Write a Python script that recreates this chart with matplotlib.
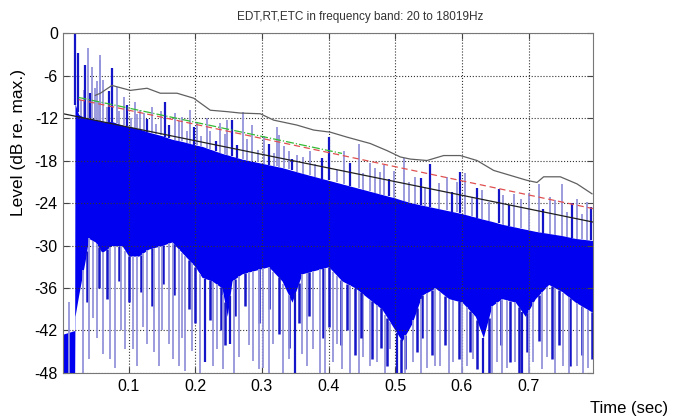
import numpy as np
import matplotlib
matplotlib.use("Agg")
from matplotlib import pyplot as plt

plt.rcParams['font.family'] = ['Liberation Sans', 'DejaVu Sans']
plt.rcParams['axes.unicode_minus'] = False

# dense part of the ETC (dB)
env_t = [0.002, 0.019, 0.0195, 0.025, 0.035, 0.04, 0.05, 0.06, 0.075, 0.09,
         0.10, 0.115, 0.13, 0.15, 0.165, 0.18, 0.20, 0.21, 0.225, 0.24,
         0.248, 0.255, 0.27, 0.29, 0.31, 0.33, 0.345, 0.36, 0.38, 0.40,
         0.42, 0.44, 0.46, 0.48, 0.50, 0.51, 0.525, 0.54, 0.56, 0.58,
         0.60, 0.62, 0.632, 0.645, 0.66, 0.68, 0.695, 0.71, 0.73, 0.75,
         0.77, 0.797]
core_top = [-42.5, -42.0, -10.0, -11.5, -12.0, -12.0, -12.2, -12.5, -12.5, -13.0,
            -13.2, -13.5, -14.0, -14.5, -15.0, -15.3, -15.8, -16.0, -16.5, -17.0,
            -17.2, -17.4, -17.8, -18.2, -18.6, -19.0, -19.4, -19.8, -20.3, -20.8,
            -21.3, -21.8, -22.3, -22.8, -23.3, -23.6, -24.0, -24.3, -24.7, -25.1,
            -25.5, -26.0, -26.3, -26.6, -27.0, -27.4, -27.7, -28.0, -28.3, -28.6,
            -29.0, -29.3]
core_bot = [-48, -48, -40, -37.0, -32, -29, -29.5, -31.0, -30, -30,
            -31.5, -31.5, -30.5, -30, -29.5, -31, -33, -34.5, -35, -36,
            -40.0, -35, -34.0, -33.5, -33, -35, -38, -34, -33.5, -33,
            -35, -36, -37.5, -39, -42, -43.5, -41, -37, -36, -37.5,
            -38, -40, -43, -38.5, -37.5, -38, -40, -37.5, -35.5, -36.5,
            -38, -39.5]

# tall peaks sticking out above the dense part
up_t = [0.0200, 0.0235, 0.0325, 0.035, 0.0385, 0.045, 0.050, 0.0526, 0.0565, 0.0576,
        0.062, 0.075, 0.0826, 0.0925, 0.11, 0.1175, 0.1225, 0.135, 0.155, 0.17,
        0.18, 0.1925, 0.2025, 0.2175, 0.2375, 0.248, 0.255, 0.272, 0.285, 0.3025,
        0.322, 0.325, 0.34, 0.3525, 0.3725, 0.40, 0.4225, 0.445, 0.4625, 0.477,
        0.4825, 0.5125, 0.53, 0.5525, 0.5775, 0.5975, 0.605, 0.63, 0.655, 0.6775,
        0.715, 0.732, 0.75, 0.7725, 0.7875]
up_db = [0.0, -2.8, -8.0, -4.5, -2.1, -4.8, -7.8, -6.8, -3.1, -3.8,
         -6.7, -5.0, -7.6, -9.0, -9.7, -10.9, -11.3, -10.4, -9.7, -11.3,
         -11.9, -10.9, -12.5, -12.0, -12.7, -12.3, -12.3, -11.2, -13.0, -14.6,
         -13.3, -14.4, -16.7, -17.2, -16.6, -14.7, -16.6, -15.6, -18.4, -19.6,
         -18.6, -17.7, -20.3, -18.5, -20.3, -19.6, -19.8, -22.2, -22.0, -22.7,
         -21.3, -23.1, -21.3, -23.4, -23.8]
up_dark = [1, 1, 0, 1, 0, 0, 0, 0, 0, 0,
           0, 1, 0, 0, 0, 0, 0, 0, 1, 0,
           0, 0, 0, 0, 0, 0, 1, 0, 0, 0,
           0, 0, 0, 0, 0, 1, 0, 0, 0, 0,
           0, 0, 0, 1, 0, 1, 0, 0, 1, 0,
           0, 0, 0, 0, 0]

# shorter peaks along the top edge
up2_t = [0.028, 0.042, 0.055, 0.067, 0.071, 0.086, 0.097, 0.104, 0.113, 0.128,
         0.141, 0.148, 0.161, 0.176, 0.187, 0.198, 0.209, 0.222, 0.231, 0.244,
         0.262, 0.278, 0.294, 0.310, 0.318, 0.333, 0.345, 0.362, 0.380, 0.390,
         0.412, 0.432, 0.452, 0.470, 0.490, 0.498, 0.520, 0.538, 0.545, 0.565,
         0.585, 0.592, 0.615, 0.622, 0.640, 0.662, 0.670, 0.688, 0.700, 0.722,
         0.740, 0.758, 0.765, 0.780, 0.793]
up2_db = [-9.5, -8.5, -9.8, -10.5, -8.2, -11.0, -10.2, -12.0, -11.5, -12.2,
          -12.8, -11.0, -13.0, -12.4, -13.8, -13.2, -14.5, -13.8, -15.2, -14.3,
          -15.8, -14.9, -16.5, -15.6, -17.0, -16.0, -17.8, -17.5, -18.5, -17.6,
          -19.3, -18.3, -19.8, -19.0, -20.6, -19.5, -21.0, -20.5, -21.8, -21.2,
          -22.5, -21.0, -23.2, -21.9, -23.8, -22.8, -24.3, -23.5, -22.6, -24.8,
          -23.6, -25.3, -24.0, -25.6, -24.6]
up2_dark = [0, 1, 0, 0, 1, 0, 1, 0, 0, 1,
            0, 0, 1, 0, 0, 1, 0, 0, 1, 0,
            1, 0, 0, 1, 0, 0, 1, 0, 0, 1,
            0, 1, 0, 0, 1, 0, 0, 1, 0, 0,
            1, 0, 0, 1, 0, 0, 1, 0, 0, 1,
            0, 0, 1, 0, 1]

# dips reaching down below the dense part
dn_t = [0.032, 0.047, 0.062, 0.080, 0.095, 0.107, 0.128, 0.145, 0.16, 0.175,
        0.185, 0.195, 0.215, 0.232, 0.252, 0.265, 0.287, 0.302, 0.317, 0.332,
        0.35, 0.36, 0.377, 0.387, 0.407, 0.413, 0.432, 0.452, 0.472, 0.492,
        0.502, 0.527, 0.547, 0.567, 0.587, 0.607, 0.632, 0.652, 0.667, 0.69,
        0.707, 0.727, 0.752, 0.772, 0.789]
dn_db = [-48, -40.2, -45.3, -47.3, -44.6, -44.6, -43.9, -47.0, -43.9, -47.0,
         -47.7, -44.9, -46.5, -44.6, -43.9, -45.8, -46.3, -47.3, -43.9, -48,
         -48, -45.3, -44.6, -48, -46.5, -43.9, -48, -45.8, -46.5, -44.6,
         -48, -46.5, -47.3, -47.0, -46.5, -47.0, -48, -46.5, -47.3, -48,
         -46.5, -45.8, -47.0, -47.0, -47.3]
dn_dark = [0, 0, 0, 0, 0, 0, 0, 0, 0, 0,
           0, 0, 1, 0, 1, 0, 0, 0, 0, 0,
           1, 0, 0, 0, 0, 0, 0, 0, 0, 0,
           1, 0, 0, 0, 0, 0, 1, 0, 0, 1,
           0, 0, 0, 0, 0]

# dark blue icicles under the dense part
dn2_t = [0.037, 0.055, 0.068, 0.085, 0.101, 0.118, 0.135, 0.152, 0.168, 0.190,
         0.200, 0.222, 0.238, 0.244, 0.260, 0.275, 0.295, 0.310, 0.325, 0.340,
         0.355, 0.370, 0.392, 0.400, 0.418, 0.428, 0.440, 0.448, 0.465, 0.478,
         0.488, 0.508, 0.515, 0.533, 0.540, 0.555, 0.575, 0.595, 0.612, 0.622,
         0.640, 0.658, 0.672, 0.685, 0.698, 0.715, 0.735, 0.745, 0.762, 0.780,
         0.795]
dn2_db = [-38, -36, -37.5, -35, -38, -36.5, -38.5, -35.5, -37, -39,
          -41, -40.5, -42, -44, -40, -38.5, -41, -39, -42.5, -44.5,
          -41, -40, -43, -41.5, -44, -42, -45.5, -43, -46, -44.5,
          -47, -48, -47.5, -45, -43, -45.5, -44, -46, -45, -47.5,
          -48, -44, -46.5, -48, -45, -43.5, -46, -44, -47, -45.5,
          -46]

# more light dips to the bottom
dn3_t = [0.040, 0.052, 0.072, 0.088, 0.113, 0.122, 0.138, 0.150, 0.167, 0.180,
         0.207, 0.227, 0.242, 0.258, 0.280, 0.295, 0.310, 0.340, 0.367, 0.395,
         0.420, 0.445, 0.462, 0.485, 0.515, 0.538, 0.560, 0.580, 0.600, 0.617,
         0.645, 0.660, 0.680, 0.700, 0.720, 0.740, 0.760, 0.782]
dn3_db = [-46, -43, -46, -42, -47, -41.5, -45, -42, -46, -43,
          -48, -47, -47.5, -48, -44, -47.5, -48, -46, -47, -48,
          -47.5, -48, -47, -48, -48, -48, -47, -48, -48, -46,
          -48, -48, -46.5, -48, -47.5, -48, -48, -48]

# smoothed envelope (grey)
env_smooth_t = [0.050, 0.0576, 0.075, 0.1025, 0.1276, 0.1475, 0.1726, 0.1975, 0.2225, 0.2475,
                0.2675, 0.2975, 0.3175, 0.3525, 0.3775, 0.4025, 0.4275, 0.4624, 0.4875, 0.5075,
                0.5225, 0.5475, 0.5725, 0.5975, 0.6225, 0.6475, 0.6725, 0.6975, 0.7125, 0.7225,
                0.7475, 0.7725, 0.795]
env_smooth_db = [-8.8, -8.5, -7.4, -8.1, -7.8, -8.5, -8.5, -9.2, -10.9, -11.1,
                 -11.3, -11.4, -12.3, -13.0, -13.7, -14.0, -14.7, -15.6, -16.6, -17.5,
                 -17.8, -18.0, -17.3, -17.3, -18.0, -19.4, -20.1, -20.8, -21.1, -20.3,
                 -20.3, -21.3, -22.7]

# fitted decay lines
rt_t = [0.002, 0.797]
rt_db = [-11.4, -26.7]
edt_t = [0.025, 0.42]
edt_db = [-9.1, -17.0]
t30_t = [0.025, 0.797]
t30_db = [-9.4, -24.8]

fig = plt.figure(figsize=(6.78, 4.19), dpi=100)
ax = fig.add_axes([0.0934, 0.1098, 0.7817, 0.8114])

blue = '#0000f0'
light = '#9494dc'
darkb = '#1414c8'

ax.fill_between(env_t, core_bot, core_top, color=blue, lw=0)

top_up = np.interp(up_t, env_t, core_top)
for t, a, b, d in zip(up_t, top_up, up_db, up_dark):
    ax.vlines(t, a, b, color=darkb if d else light, lw=1.6 if d else 1.3)
top_up2 = np.interp(up2_t, env_t, core_top)
for t, a, b, d in zip(up2_t, top_up2, up2_db, up2_dark):
    ax.vlines(t, a, b, color=darkb if d else light, lw=1.6 if d else 1.3)

bot_dn = np.interp(dn_t, env_t, core_bot)
for t, a, b, d in zip(dn_t, bot_dn, dn_db, dn_dark):
    ax.vlines(t, b, a, color=darkb if d else light, lw=1.6 if d else 1.3)
bot_dn2 = np.interp(dn2_t, env_t, core_bot)
for t, a, b in zip(dn2_t, bot_dn2, dn2_db):
    ax.vlines(t, b, a, color=darkb, lw=1.8)
bot_dn3 = np.interp(dn3_t, env_t, core_bot)
for t, a, b in zip(dn3_t, bot_dn3, dn3_db):
    ax.vlines(t, b, a, color=light, lw=1.3)
ax.vlines(0.0105, -48, -38.0, color=light, lw=1.3)

ax.plot(env_smooth_t, env_smooth_db, color='#606060', lw=0.9)
ax.plot(edt_t, edt_db, color='#33bb33', lw=0.9, ls='-.')
ax.plot(t30_t, t30_db, color='#e05050', lw=0.9, ls=(0, (5, 3)))
ax.plot(rt_t, rt_db, color='#202020', lw=0.9)

ax.set_xlim(0.002, 0.797)
ax.set_ylim(-48, 0)
ax.set_xticks([0.1, 0.2, 0.3, 0.4, 0.5, 0.6, 0.7])
ax.set_yticks([-48, -42, -36, -30, -24, -18, -12, -6, 0])
ax.tick_params(direction='in', length=4, labelsize=11.5, color='#444444',
               top=True, right=True, pad=4)
ax.grid(True, ls=':', color='#333333', lw=0.8)
for s in ax.spines.values():
    s.set_color('#777777')

# texts sit off-centre in the original export
fig.text(0.531, 0.959, 'EDT,RT,ETC in frequency band: 20 to 18019Hz',
         ha='center', va='center', fontsize=8.5, color='#333333')
fig.text(0.027, 0.659, 'Level (dB re. max.)', rotation=90,
         ha='center', va='center', fontsize=12.5)
fig.text(0.928, 0.026, 'Time (sec)', ha='center', va='center', fontsize=12)

fig.savefig('out.png', dpi=100)
